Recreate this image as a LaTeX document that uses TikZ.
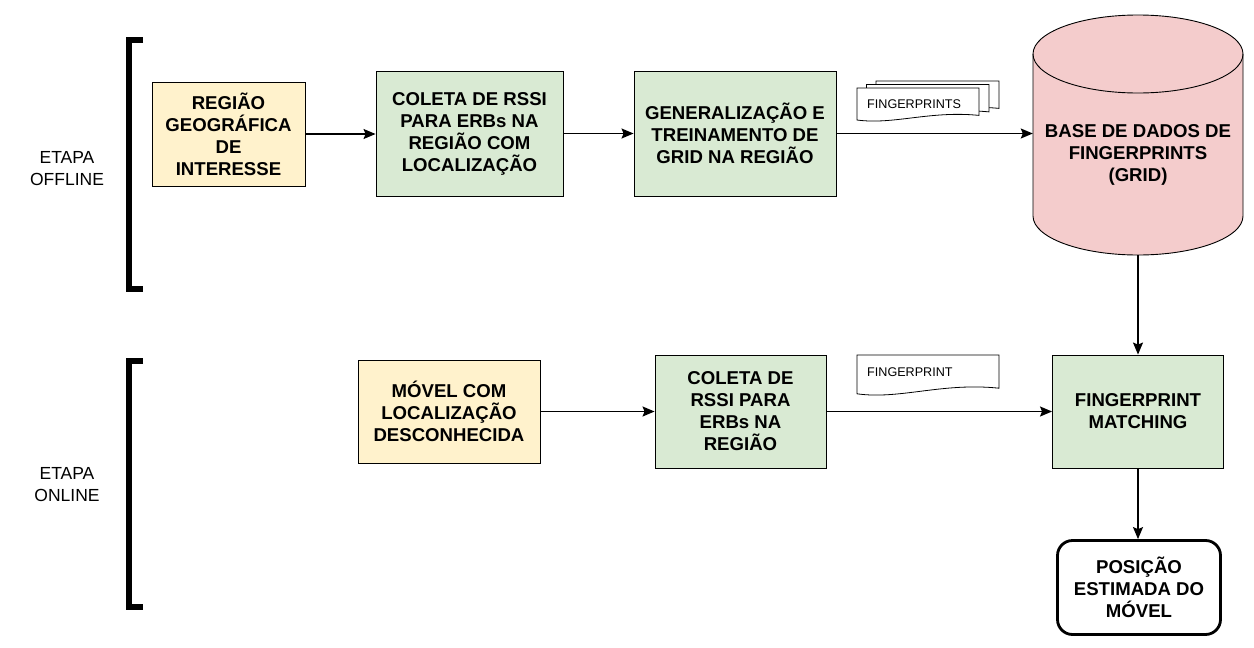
\documentclass[tikz,border=0pt]{standalone}
\usepackage{fontspec}
\setmainfont{Liberation Sans}
\usetikzlibrary{arrows.meta}
\definecolor{yel}{HTML}{FFF2CC}
\definecolor{grn}{HTML}{D9EAD3}
\definecolor{pnk}{HTML}{F4CCCC}
\newcommand{\fpdoc}[4]{%
  \draw[fill=white,line width=0.8pt] (#1,#2) -- ({#1+#3},#2) -- ({#1+#3},{#2+0.83*#4})
    .. controls ({#1+0.6*#3},{#2+0.68*#4}) and ({#1+0.3*#3},{#2+1.12*#4}) .. (#1,{#2+0.97*#4}) -- cycle;}
\begin{document}
\begin{tikzpicture}[x=1pt,y=-1pt,
  box/.style={draw=black,line width=0.9pt,align=center,inner sep=0pt,
    font=\fontsize{18.6}{22}\selectfont\bfseries},
  lbl/.style={align=center,inner sep=0pt,font=\fontsize{17.5}{22}\selectfont},
  doctxt/.style={anchor=west,inner sep=0pt,font=\fontsize{12.6}{14}\selectfont},
  arr/.style={line width=1.4pt,-{Stealth[length=12pt,width=10pt,inset=2pt]}},
  brk/.style={line width=6.5pt}]
\useasboundingbox (0,0) rectangle (1254,648);
\fill[white] (0,0) rectangle (1254,648);

% brackets
\draw[brk] (143,40) -- (129,40) -- (129,289) -- (143,289);
\draw[brk] (143,361) -- (129,361) -- (129,607) -- (143,607);
\node[lbl] (off) at (67,169) {ETAPA\\OFFLINE};
\node[lbl] (on) at (67,485) {ETAPA\\ONLINE};

% offline row
\node[box,fill=yel,minimum width=153pt,minimum height=104pt] (reg) at (228.5,134)
  {REGIÃO\\GEOGRÁFICA\\DE\\INTERESSE};
\node[box,fill=grn,minimum width=187pt,minimum height=125pt] (col1) at (469.5,133.5)
  {COLETA DE RSSI\\PARA ERBs NA\\REGIÃO COM\\LOCALIZAÇÃO};
\node[box,fill=grn,minimum width=202pt,minimum height=125pt] (gen) at (735,133.5)
  {GENERALIZAÇÃO E\\TREINAMENTO DE\\GRID NA REGIÃO};

% cylinder
\draw[fill=pnk,line width=0.9pt] (1033,54) -- (1033,216)
  .. controls (1033,237.5) and (1080,255) .. (1138,255)
  .. controls (1196,255) and (1243,237.5) .. (1243,216) -- (1243,54)
  .. controls (1243,32.5) and (1196,15) .. (1138,15)
  .. controls (1080,15) and (1033,32.5) .. (1033,54) -- cycle;
\draw[line width=0.9pt] (1033,54) .. controls (1033,75.5) and (1080,93) .. (1138,93)
  .. controls (1196,93) and (1243,75.5) .. (1243,54);
\node[minimum width=210pt,minimum height=240pt,inner sep=0pt] (db) at (1138,135) {};
\node[box,draw=none] (dbl) at (1138,155) {BASE DE DADOS DE\\FINGERPRINTS\\(GRID)};

% fingerprints stack
\fpdoc{876}{81}{123}{33}
\fpdoc{866.5}{84.5}{122.5}{33}
\fpdoc{857}{88}{122}{33}
\node[doctxt] (fps) at (867,104) {FINGERPRINTS};

% online row
\node[box,fill=yel,minimum width=182pt,minimum height=103pt] (mov) at (449,411.5)
  {MÓVEL COM\\LOCALIZAÇÃO\\DESCONHECIDA};
\node[box,fill=grn,minimum width=171pt,minimum height=113pt] (col2) at (740.5,411.5)
  {COLETA DE\\RSSI PARA\\ERBs NA\\REGIÃO};
\node[box,fill=grn,minimum width=171pt,minimum height=113pt] (match) at (1138,411.5)
  {FINGERPRINT\\MATCHING};
\node[box,line width=2.8pt,rounded corners=15pt,fill=white,minimum width=163pt,minimum height=94pt] (pos) at (1139,587.5)
  {POSIÇÃO\\ESTIMADA DO\\MÓVEL};

\fpdoc{857}{355}{142}{40}
\node[doctxt] (fp) at (867,372) {FINGERPRINT};

% connectors
\draw[arr] (reg.east) -- (reg.east -| col1.west);
\draw[arr] (col1.east) -- (gen.west);
\draw[arr] (gen.east) -- (gen.east -| db.west);
\draw[arr] (db.south) -- (db.south |- match.north);
\draw[arr] (mov.east) -- (col2.west);
\draw[arr] (col2.east) -- (match.west);
\draw[arr] (match.south) -- (match.south |- pos.north);
\end{tikzpicture}
\end{document}
